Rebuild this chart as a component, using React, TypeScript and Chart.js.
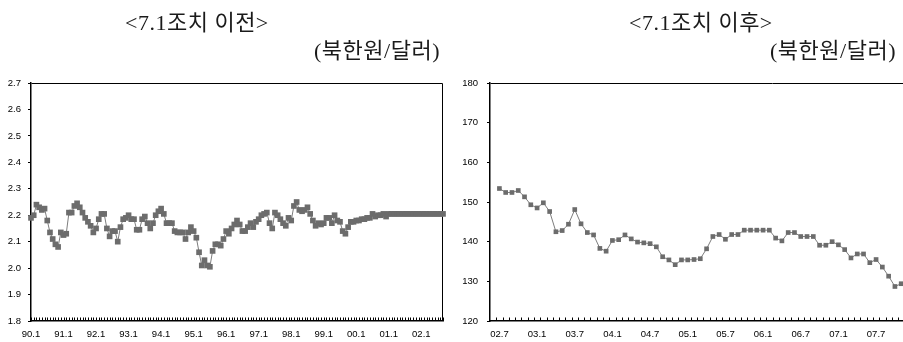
import React, { useEffect, useRef } from 'react';
import { Chart, registerables } from 'chart.js';

Chart.register(...registerables);

const LEFT_TITLE = '<7.1조치 이전>';
const RIGHT_TITLE = '<7.1조치 이후>';
const UNIT_LABEL = '(북한원/달러)';

// 1990.1 ~ 2002.9 monthly, 북한원/달러 (before 7.1 measures)
const LEFT_VALUES = [
  2.19, 2.2, 2.24, 2.23, 2.22, 2.225, 2.18, 2.135, 2.11, 2.09,
  2.08, 2.135, 2.125, 2.13, 2.21, 2.21, 2.235, 2.245, 2.23, 2.21,
  2.19, 2.175, 2.16, 2.135, 2.15, 2.185, 2.205, 2.205, 2.15, 2.12,
  2.14, 2.14, 2.1, 2.155, 2.185, 2.19, 2.2, 2.185, 2.185, 2.145,
  2.145, 2.185, 2.195, 2.17, 2.15, 2.17, 2.2, 2.215, 2.225, 2.205,
  2.17, 2.17, 2.17, 2.14, 2.135, 2.135, 2.135, 2.11, 2.135, 2.155,
  2.14, 2.115, 2.06, 2.01, 2.03, 2.01, 2.005, 2.065, 2.09, 2.09,
  2.085, 2.11, 2.14, 2.13, 2.15, 2.165, 2.18, 2.165, 2.14, 2.14,
  2.155, 2.17, 2.155, 2.175, 2.185, 2.2, 2.205, 2.21, 2.17, 2.15,
  2.21, 2.2, 2.185, 2.17, 2.16, 2.19, 2.18, 2.235, 2.25, 2.22,
  2.215, 2.22, 2.23, 2.205, 2.18, 2.16, 2.17, 2.165, 2.17, 2.19,
  2.19, 2.17, 2.2, 2.18, 2.175, 2.14, 2.13, 2.155, 2.175, 2.175,
  2.18, 2.18, 2.185, 2.185, 2.19, 2.19, 2.205, 2.195, 2.2, 2.2,
  2.205, 2.195, 2.205, 2.205, 2.205, 2.205, 2.205, 2.205, 2.205, 2.205,
  2.205, 2.205, 2.205, 2.205, 2.205, 2.205, 2.205, 2.205, 2.205, 2.205,
  2.205, 2.205, 2.205,
];
const LEFT_X_LABELS = ['90.1', '91.1', '92.1', '93.1', '94.1', '95.1', '96.1', '97.1', '98.1', '99.1', '00.1', '01.1', '02.1'];
const LEFT_LABEL_STEP = 12;
const LEFT_Y_TICKS = [1.8, 1.9, 2.0, 2.1, 2.2, 2.3, 2.4, 2.5, 2.6, 2.7];

// 2002.7 ~ monthly (after 7.1 measures)
const RIGHT_VALUES = [
  153.4, 152.4, 152.4, 152.9, 151.3, 149.3, 148.5, 149.8, 147.6, 142.5,
  142.8, 144.4, 148.1, 144.5, 142.3, 141.7, 138.3, 137.6, 140.3, 140.5,
  141.7, 140.7, 139.9, 139.7, 139.5, 138.7, 136.2, 135.4, 134.2, 135.4,
  135.4, 135.5, 135.7, 138.2, 141.3, 141.8, 140.6, 141.8, 141.8, 142.9,
  142.9, 142.9, 142.9, 142.9, 140.9, 140.2, 142.3, 142.3, 141.3, 141.3,
  141.3, 139.1, 139.1, 140.0, 139.2, 138.0, 135.9, 136.9, 136.9, 134.7,
  135.5, 133.6, 131.3, 128.7, 129.4,
];
const RIGHT_X_LABELS = ['02.7', '03.1', '03.7', '04.1', '04.7', '05.1', '05.7', '06.1', '06.7', '07.1', '07.7'];
const RIGHT_LABEL_STEP = 6;
const RIGHT_Y_TICKS = [120, 130, 140, 150, 160, 170, 180];

const TICK_FONT = { family: '"Liberation Sans", Arial, sans-serif', size: 9.5 };
const MARKER_COLOR = '#6c6c6c';
const LINE_COLOR = '#7d7d7d';

const framePlugin = {
  id: 'frameTicks',
  beforeDatasetsDraw(chart: any, _args: any, opts: any) {
    const { ctx, chartArea: a } = chart;
    const xs = chart.scales.x;
    ctx.save();
    ctx.strokeStyle = '#000';
    ctx.lineWidth = 1;
    const l = Math.round(a.left) + 0.5;
    const t = Math.round(a.top) + 0.5;
    const r = Math.round(a.right) - 0.5;
    const b = Math.round(a.bottom) - 0.5;
    ctx.beginPath();
    ctx.moveTo(l, t);
    ctx.lineTo(r, t);
    ctx.lineTo(r, b);
    ctx.stroke();
    ctx.beginPath();
    for (let v = opts.start; v <= opts.end + 1e-9; v += 1) {
      const px = Math.round(xs.getPixelForValue(v)) + 0.5;
      ctx.moveTo(px, b);
      ctx.lineTo(px, b - 3);
    }
    ctx.stroke();
    ctx.restore();
  },
};

function makeConfig(p: {
  values: number[];
  labels: string[];
  step: number;
  yTicks: number[];
  yFmt: (v: number) => string;
  xMin: number;
  xMax: number;
  tickStart: number;
  tickEnd: number;
  radius: number;
  yAxisWidth: number;
  padRight: number;
  yPad: number;
  clip: boolean;
}): any {
  return {
    type: 'line',
    data: {
      datasets: [
        {
          data: p.values.map((v, i) => ({ x: i, y: v })),
          borderColor: LINE_COLOR,
          borderWidth: 1,
          pointStyle: 'rect',
          pointRadius: p.radius,
          pointBorderWidth: 0,
          pointBackgroundColor: MARKER_COLOR,
          pointBorderColor: MARKER_COLOR,
          tension: 0,
          clip: p.clip ? undefined : false,
        },
      ],
    },
    options: {
      responsive: false,
      animation: false,
      devicePixelRatio: 1,
      layout: { padding: { top: 83, right: p.padRight, bottom: 0, left: 0 } },
      plugins: {
        legend: { display: false },
        tooltip: { enabled: false },
        frameTicks: { start: p.tickStart, end: p.tickEnd },
      },
      scales: {
        x: {
          type: 'linear',
          min: p.xMin,
          max: p.xMax,
          grid: { display: false, drawTicks: false },
          border: { display: true, color: '#000', width: 1.5 },
          afterBuildTicks: (scale: any) => {
            scale.ticks = p.labels.map((_, k) => ({ value: k * p.step }));
          },
          afterFit: (scale: any) => {
            scale.height = 21;
          },
          ticks: {
            autoSkip: false,
            maxRotation: 0,
            minRotation: 0,
            padding: 8,
            color: '#000',
            font: TICK_FONT,
            callback: (v: number) => p.labels[Math.round(v / p.step)] ?? '',
          },
        },
        y: {
          type: 'linear',
          min: p.yTicks[0],
          max: p.yTicks[p.yTicks.length - 1],
          grid: { display: true, drawOnChartArea: false, drawTicks: true, tickLength: 3, color: '#000' },
          border: { display: true, color: '#000', width: 1.5 },
          afterBuildTicks: (scale: any) => {
            scale.ticks = p.yTicks.map((v) => ({ value: v }));
          },
          afterFit: (scale: any) => {
            scale.width = p.yAxisWidth;
          },
          ticks: {
            padding: p.yPad,
            color: '#000',
            font: TICK_FONT,
            callback: (v: number) => p.yFmt(v),
          },
        },
      },
    },
    plugins: [framePlugin],
  };
}

function ChartCanvas({ config, width, height }: { config: any; width: number; height: number }) {
  const ref = useRef<HTMLCanvasElement | null>(null);
  useEffect(() => {
    if (!ref.current) return;
    const chart = new Chart(ref.current, config);
    return () => chart.destroy();
  }, [config]);
  return <canvas ref={ref} width={width} height={height} style={{ width, height, display: 'block' }} />;
}

const leftConfig = makeConfig({
  values: LEFT_VALUES,
  labels: LEFT_X_LABELS,
  step: LEFT_LABEL_STEP,
  yTicks: LEFT_Y_TICKS,
  yFmt: (v) => v.toFixed(1),
  xMin: 0,
  xMax: LEFT_VALUES.length - 1,
  tickStart: 0,
  tickEnd: LEFT_VALUES.length - 1,
  radius: 4,
  yAxisWidth: 31,
  padRight: 12,
  yPad: 7,
  clip: false,
});

const rightConfig = makeConfig({
  values: RIGHT_VALUES,
  labels: RIGHT_X_LABELS,
  step: RIGHT_LABEL_STEP,
  yTicks: RIGHT_Y_TICKS,
  yFmt: (v) => String(Math.round(v)),
  xMin: -1.5,
  xMax: 88.5,
  tickStart: -0.5,
  tickEnd: 87.5,
  radius: 3.3,
  yAxisWidth: 35,
  padRight: 20,
  yPad: 9,
  clip: true,
});

const titleFont = '"Liberation Serif", "Noto Sans CJK KR", serif';

function Label({ text, left, top, size }: { text: string; left: number; top: number; size: number }) {
  return (
    <div
      style={{
        position: 'absolute',
        left,
        top,
        fontFamily: titleFont,
        fontSize: size,
        lineHeight: 1,
        letterSpacing: 0.5,
        whiteSpace: 'nowrap',
        color: '#1a1a1a',
      }}
    >
      {text}
    </div>
  );
}

export default function App() {
  return (
    <div
      style={{
        position: 'fixed',
        left: 0,
        top: 0,
        width: 903,
        height: 342,
        overflow: 'hidden',
        background: '#fff',
      }}
    >
      <div style={{ position: 'absolute', left: 0, top: 0 }}>
        <ChartCanvas config={leftConfig} width={455} height={342} />
      </div>
      <div style={{ position: 'absolute', left: 455, top: 0 }}>
        <ChartCanvas config={rightConfig} width={620} height={342} />
      </div>
      <Label text={LEFT_TITLE} left={125} top={12} size={22} />
      <Label text={UNIT_LABEL} left={314} top={40} size={22} />
      <Label text={RIGHT_TITLE} left={629} top={12} size={22} />
      <Label text={UNIT_LABEL} left={770} top={40} size={22} />
    </div>
  );
}
